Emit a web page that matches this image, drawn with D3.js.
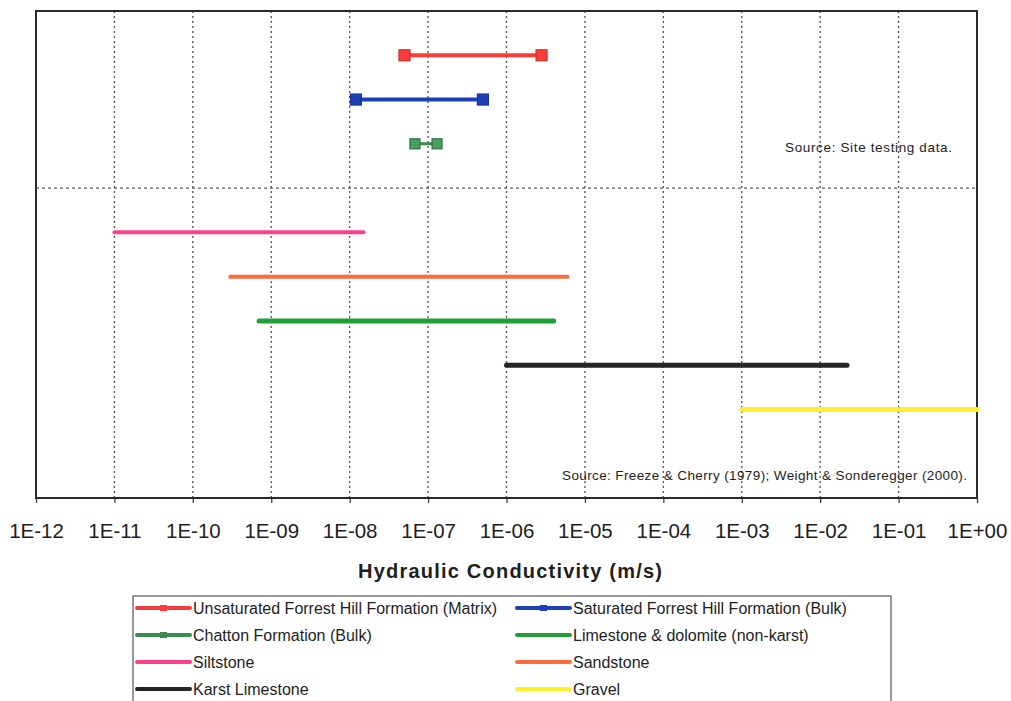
<!DOCTYPE html>
<html>
<head>
<meta charset="utf-8">
<script src="https://cdn.jsdelivr.net/npm/d3@7"></script>
<style>
  html, body { margin: 0; padding: 0; background: #fff; }
  svg { display: block; font-family: "Liberation Sans", Arial, sans-serif; }
</style>
</head>
<body>
<svg id="chart" width="1011" height="701"></svg>
<script>
// Hydraulic conductivity ranges (m/s) per material
const categories = [
  "Unsaturated Forrest Hill Formation (Matrix)",
  "Saturated Forrest Hill Formation (Bulk)",
  "Chatton Formation (Bulk)",
  "Siltstone",
  "Sandstone",
  "Limestone & dolomite (non-karst)",
  "Karst Limestone",
  "Gravel"
];
const lowK  = [5e-8, 1.2e-8, 6.8e-8, 1e-11, 3e-10, 7e-10, 1e-6, 1e-3];
const highK = [2.8e-6, 5e-7, 1.3e-7, 1.5e-8, 6e-6, 4e-6, 2.2e-2, 1];
const rowPos = [10, 9, 8, 6, 5, 4, 3, 2];
const hasMarkers = [true, true, true, false, false, false, false, false];
const colors = ["#ff3a3a", "#1d3fb8", "#3b8a50", "#ff3f8a", "#ff6a3c", "#1f9e36", "#262626", "#fff02a"];
const lineWidths = [4, 4, 3, 4, 4, 5, 5, 5];

const tickValues = [1e-12, 1e-11, 1e-10, 1e-9, 1e-8, 1e-7, 1e-6, 1e-5, 1e-4, 1e-3, 1e-2, 1e-1, 1];
const tickLabels = ["1E-12", "1E-11", "1E-10", "1E-09", "1E-08", "1E-07", "1E-06", "1E-05", "1E-04", "1E-03", "1E-02", "1E-01", "1E+00"];
const hGridRows = [7];

// Legend ordering: two columns, four rows
const legendOrder = [0, 1, 2, 5, 3, 4, 6, 7];

const svg = d3.select("#chart");
const plot = { left: 36, right: 977, top: 11, bottom: 498 };

const x = d3.scaleLog().domain([1e-12, 1]).range([plot.left, plot.right]);
const y = d3.scaleLinear().domain([0, 11]).range([plot.bottom, plot.top]);

// Vertical gridlines at each decade
svg.append("g")
  .selectAll("line")
  .data(tickValues.slice(1, -1))
  .join("line")
  .attr("x1", d => x(d)).attr("x2", d => x(d))
  .attr("y1", plot.top).attr("y2", plot.bottom)
  .attr("stroke", "#5a5a5a")
  .attr("stroke-width", 1.4)
  .attr("stroke-dasharray", "2,3");

// Horizontal separator between site data and literature ranges
svg.append("g")
  .selectAll("line")
  .data(hGridRows)
  .join("line")
  .attr("x1", plot.left).attr("x2", plot.right)
  .attr("y1", d => y(d)).attr("y2", d => y(d))
  .attr("stroke", "#5a5a5a")
  .attr("stroke-width", 1.4)
  .attr("stroke-dasharray", "3,3");

// Bottom axis
const xAxis = d3.axisBottom(x)
  .tickValues(tickValues)
  .tickFormat((d, i) => tickLabels[i])
  .tickSize(5)
  .tickPadding(20);
const axisG = svg.append("g")
  .attr("transform", `translate(0,${plot.bottom})`)
  .call(xAxis);
axisG.select(".domain").remove();
axisG.selectAll(".tick line").attr("stroke", "#444").attr("stroke-width", 1.3);
axisG.selectAll(".tick text")
  .attr("font-size", 20.5)
  .attr("fill", "#1e1e1e")
  .attr("font-family", "'Liberation Sans', Arial, sans-serif");

// Plot frame
svg.append("rect")
  .attr("x", plot.left).attr("y", plot.top)
  .attr("width", plot.right - plot.left)
  .attr("height", plot.bottom - plot.top)
  .attr("fill", "none")
  .attr("stroke", "#2a2a2a")
  .attr("stroke-width", 2);

// Range bars
const series = categories.map((name, i) => ({
  name, lo: lowK[i], hi: highK[i], row: rowPos[i],
  color: colors[i], width: lineWidths[i], markers: hasMarkers[i]
}));

svg.append("g")
  .selectAll("line")
  .data(series)
  .join("line")
  .attr("x1", d => x(d.lo)).attr("x2", d => x(d.hi))
  .attr("y1", d => y(d.row)).attr("y2", d => y(d.row))
  .attr("stroke", d => d.color)
  .attr("stroke-width", d => d.width)
  .attr("stroke-linecap", "round");

// Square end markers for the site test results
const markerData = series.filter(d => d.markers)
  .flatMap(d => [{ s: d, v: d.lo }, { s: d, v: d.hi }]);
svg.append("g")
  .selectAll("rect")
  .data(markerData)
  .join("rect")
  .attr("x", d => x(d.v) - (d.s.width === 3 ? 5 : 5.5))
  .attr("y", d => y(d.s.row) - (d.s.width === 3 ? 5 : 5.5))
  .attr("width", d => d.s.width === 3 ? 10 : 11)
  .attr("height", d => d.s.width === 3 ? 10 : 11)
  .attr("fill", d => d.s.width === 3 ? "#4aa060" : d.s.color)
  .attr("stroke", d => d3.color(d.s.color).darker(0.6))
  .attr("stroke-width", 1.2);

// Source notes
svg.append("text")
  .attr("x", 785).attr("y", 152)
  .attr("font-size", 13.5)
  .attr("fill", "#1e1e1e")
  .attr("textLength", 167)
  .attr("lengthAdjust", "spacing")
  .text("Source: Site testing data.");

svg.append("text")
  .attr("x", 562).attr("y", 480)
  .attr("font-size", 13.5)
  .attr("fill", "#1e1e1e")
  .attr("textLength", 405)
  .attr("lengthAdjust", "spacing")
  .text("Source: Freeze & Cherry (1979); Weight & Sonderegger (2000).");

// Axis title
svg.append("text")
  .attr("x", 358)
  .attr("y", 578)
  .attr("font-size", 20)
  .attr("font-weight", "bold")
  .attr("fill", "#1e1e1e")
  .attr("textLength", 304)
  .attr("lengthAdjust", "spacing")
  .text("Hydraulic Conductivity (m/s)");

// Legend
const legend = svg.append("g");
legend.append("rect")
  .attr("x", 133).attr("y", 596)
  .attr("width", 758).attr("height", 110)
  .attr("fill", "#fff")
  .attr("stroke", "#555")
  .attr("stroke-width", 1.2);

const legendCols = [137, 517];
const legendRows = [608, 635, 662, 689];
const items = legend.selectAll("g.item")
  .data(legendOrder.map((idx, k) => ({ s: series[idx], col: k % 2, row: Math.floor(k / 2) })))
  .join("g")
  .attr("class", "item")
  .attr("transform", d => `translate(${legendCols[d.col]},${legendRows[d.row]})`);

items.append("line")
  .attr("x1", 0).attr("x2", 53)
  .attr("y1", 0).attr("y2", 0)
  .attr("stroke", d => d.s.color)
  .attr("stroke-width", 4)
  .attr("stroke-linecap", "round");

items.filter(d => d.s.markers)
  .append("rect")
  .attr("x", 23).attr("y", -3)
  .attr("width", 7).attr("height", 6)
  .attr("fill", d => d.s.color);

items.append("text")
  .attr("x", 56).attr("y", 5.5)
  .attr("font-size", 16)
  .attr("fill", "#1e1e1e")
  .text(d => d.s.name);
</script>
</body>
</html>
